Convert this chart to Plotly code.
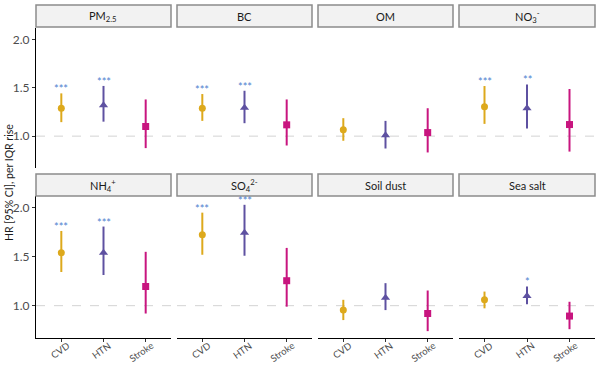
import plotly.graph_objects as go

pollutants = ["PM<sub>2.5</sub>", "BC", "OM", "NO<sub>3</sub><sup>-</sup>",
              "NH<sub>4</sub><sup>+</sup>", "SO<sub>4</sub><sup>2-</sup>", "Soil dust", "Sea salt"]
outcomes = ["CVD", "HTN", "Stroke"]

cvd_hr = [1.29, 1.29, 1.065, 1.305, 1.54, 1.725, 0.955, 1.06]
cvd_lo = [1.145, 1.158, 0.952, 1.127, 1.344, 1.52, 0.853, 0.973]
cvd_hi = [1.443, 1.436, 1.186, 1.519, 1.763, 1.95, 1.06, 1.144]
htn_hr = [1.32, 1.295, 1.01, 1.289, 1.54, 1.746, 1.08, 1.10]
htn_lo = [1.15, 1.134, 0.872, 1.078, 1.313, 1.51, 0.955, 1.014]
htn_hi = [1.52, 1.47, 1.158, 1.536, 1.808, 2.03, 1.23, 1.196]
stroke_hr = [1.10, 1.117, 1.037, 1.12, 1.196, 1.255, 0.92, 0.894]
stroke_lo = [0.876, 0.903, 0.831, 0.84, 0.92, 0.99, 0.74, 0.76]
stroke_hi = [1.38, 1.38, 1.289, 1.488, 1.55, 1.59, 1.155, 1.04]
cvd_sig = ["***", "***", "", "***", "***", "***", "", ""]
htn_sig = ["***", "***", "", "**", "***", "***", "", "*"]
stroke_sig = ["", "", "", "", "", "", "", ""]

y_ticks = [1.0, 1.5, 2.0]
y_ticktext = ["1.0", "1.5", "2.0"]

series = [
    ("CVD", cvd_hr, cvd_lo, cvd_hi, cvd_sig, "#DDA91C", "circle", 7),
    ("HTN", htn_hr, htn_lo, htn_hi, htn_sig, "#5E51A1", "triangle-up", 8),
    ("Stroke", stroke_hr, stroke_lo, stroke_hi, stroke_sig, "#C8157F", "square", 7),
]

W, H = 600, 366
col_px = [(36, 171), (177, 312), (318, 453), (459, 595)]
row_px = [(28, 168), (196, 338)]
strip_px = [(5, 27), (174, 196)]
label_dx = [-1.5, -2.3, -3.7]   # rotated label centre offset from tick (px)
label_cy = [350, 350, 351.5]     # rotated label centre height (px from top)

FONT = "Lato"
fig = go.Figure()
layout = dict(width=W, height=H, margin=dict(l=0, r=0, t=0, b=0),
              plot_bgcolor="white", paper_bgcolor="white", showlegend=False,
              font=dict(family=FONT))
shapes = []
annotations = []

for p in range(8):
    r, c = divmod(p, 4)
    idx = p + 1
    xa = "x" if idx == 1 else f"x{idx}"
    ya = "y" if idx == 1 else f"y{idx}"
    x0, x1 = col_px[c]
    y0, y1 = row_px[r]
    layout[f"xaxis{'' if idx == 1 else idx}"] = dict(
        domain=[x0 / W, x1 / W], anchor=ya, range=[0.4, 3.6],
        tickvals=[1, 2, 3], ticktext=outcomes,
        showticklabels=False, ticks="outside" if r == 1 else "",
        ticklen=3, tickcolor="#333333",
        showline=(r == 1), linecolor="black", linewidth=1.3,
        showgrid=False, zeroline=False, fixedrange=True)
    layout[f"yaxis{'' if idx == 1 else idx}"] = dict(
        domain=[1 - y1 / H, 1 - y0 / H], anchor=xa, range=[0.67, 2.12],
        tickvals=y_ticks, ticktext=y_ticktext,
        showticklabels=(c == 0), ticks="outside" if c == 0 else "",
        ticklen=3, tickcolor="#333333",
        tickfont=dict(size=12, color="#4D4D4D", family=FONT),
        showline=(c == 0), linecolor="black", linewidth=1.3,
        showgrid=False, zeroline=False, fixedrange=True)
    # rotated category labels on the bottom row
    if r == 1:
        for k, lab in enumerate(outcomes):
            annotations.append(dict(text=lab, x=k + 1, xref=xa, y=1 - label_cy[k] / H,
                                    yref="paper", textangle=-35, showarrow=False,
                                    xanchor="center", yanchor="middle", xshift=label_dx[k],
                                    font=dict(size=9.5, color="#4D4D4D", family=FONT)))
    # reference line
    shapes.append(dict(type="line", xref=f"{xa} domain", yref=ya, x0=0, x1=1, y0=1, y1=1,
                       line=dict(color="#D3D3D3", width=1, dash="dash"), layer="below"))
    # strip
    s0, s1 = strip_px[r]
    shapes.append(dict(type="rect", xref="paper", yref="paper",
                       x0=x0 / W, x1=x1 / W, y0=1 - s1 / H, y1=1 - s0 / H,
                       fillcolor="#F2F2F2", line=dict(color="#8C8C8C", width=1.5)))
    annotations.append(dict(text=pollutants[p], xref="paper", yref="paper",
                            x=(x0 + x1) / 2 / W, y=1 - (s0 + s1) / 2 / H,
                            showarrow=False, xanchor="center", yanchor="middle",
                            font=dict(size=11, color="#1A1A1A", family=FONT)))
    for k, (name, hr, lo, hi, sig, col, sym, ms) in enumerate(series):
        fig.add_trace(go.Scatter(
            x=[k + 1], y=[hr[p]], xaxis=xa, yaxis=ya, mode="markers",
            marker=dict(color=col, symbol=sym, size=ms, line=dict(width=0)),
            error_y=dict(type="data", symmetric=False, array=[hi[p] - hr[p]],
                         arrayminus=[hr[p] - lo[p]], color=col, thickness=2, width=0),
            name=name, hoverinfo="skip"))
        if sig[p]:
            annotations.append(dict(text=sig[p], x=k + 1, y=hi[p], xref=xa, yref=ya,
                                    showarrow=False, xanchor="center", yanchor="bottom",
                                    yshift=-4,
                                    font=dict(size=11, color="#4F7FD0", family=FONT)))

annotations.append(dict(text="HR [95% CI], per IQR rise", xref="paper", yref="paper",
                        x=9 / W, y=1 - 183 / H, textangle=-90, showarrow=False,
                        xanchor="center", yanchor="middle",
                        font=dict(size=10.5, color="#1A1A1A", family=FONT)))

layout["shapes"] = shapes
layout["annotations"] = annotations
fig.update_layout(**layout)
fig.write_html("out.html", config={"displayModeBar": False},
               post_script="document.body.style.margin='0';document.body.style.padding='0';")
